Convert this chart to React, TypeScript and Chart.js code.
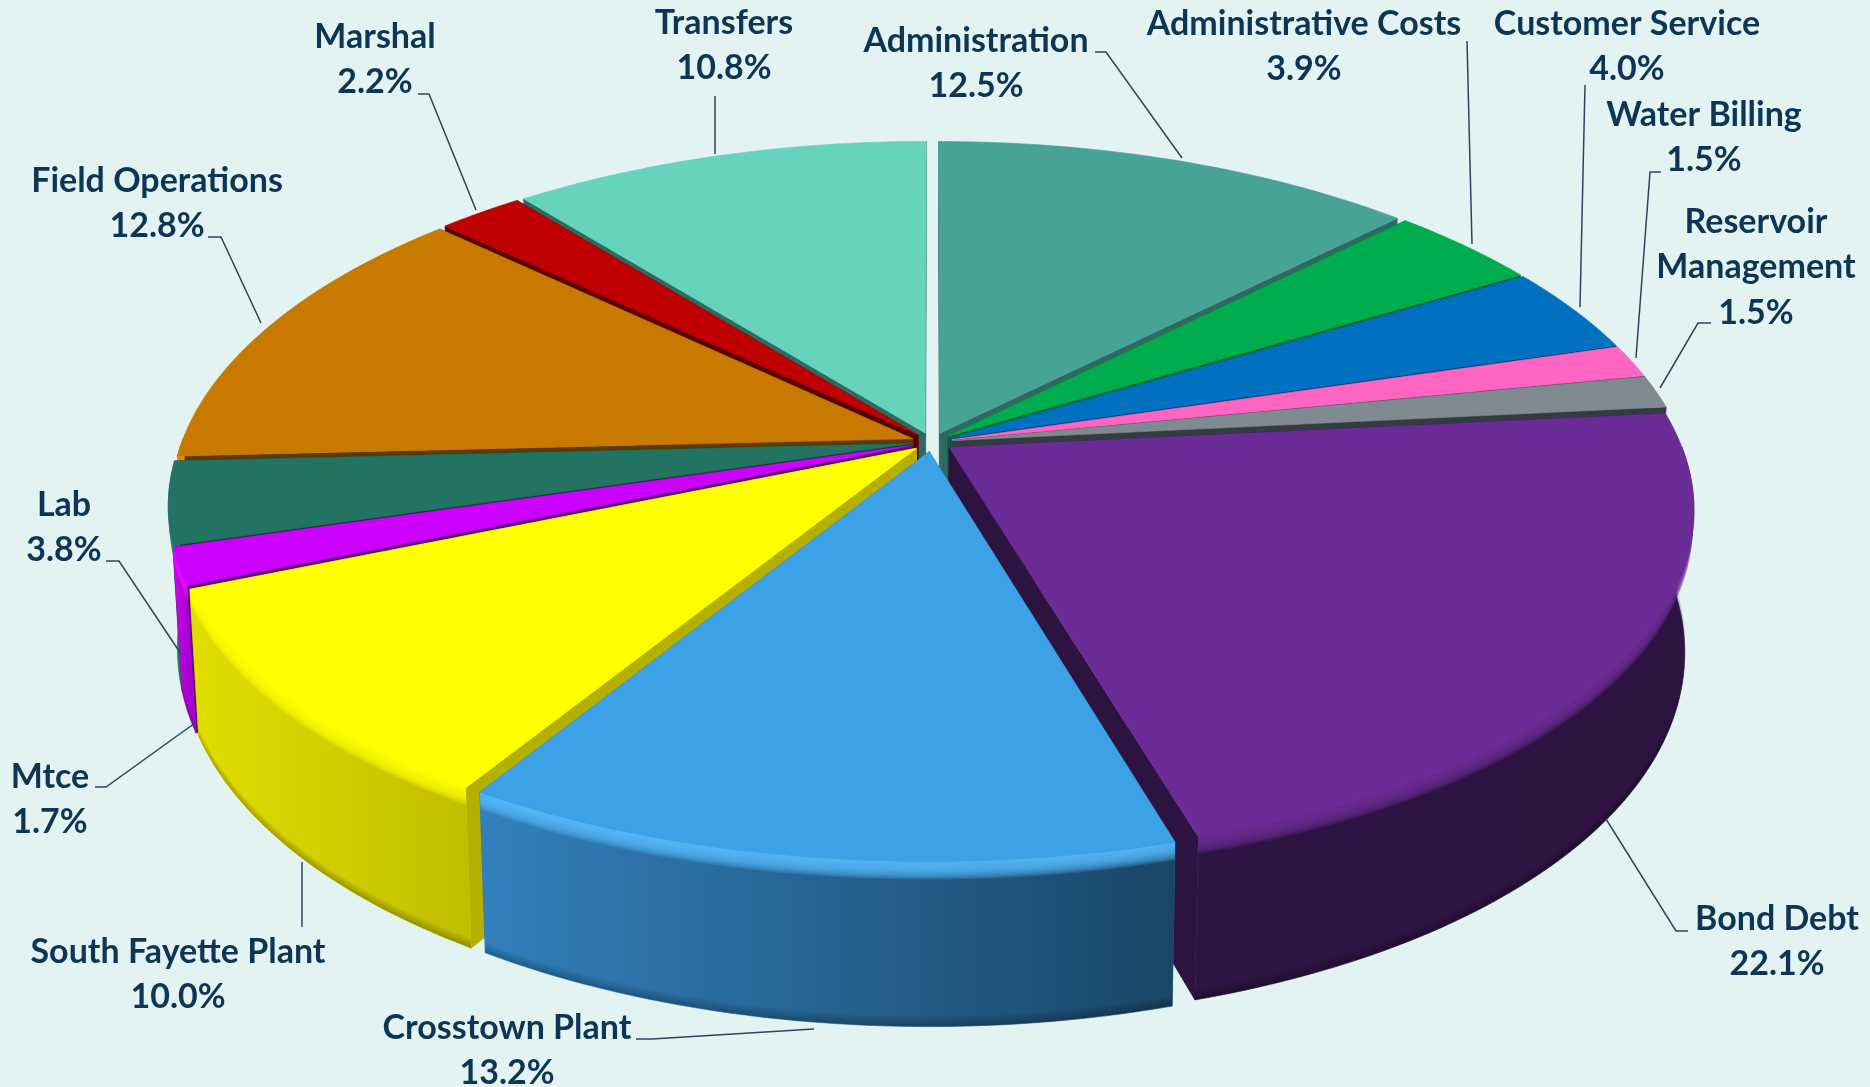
import React, { useEffect, useRef } from "react";
import { Chart, registerables } from "chart.js";

Chart.register(...registerables);

// Budget shares, clockwise from twelve o'clock.
const categories = [
  "Administration",
  "Administrative Costs",
  "Customer Service",
  "Water Billing",
  "Reservoir Management",
  "Bond Debt",
  "Crosstown Plant",
  "South Fayette Plant",
  "Mtce",
  "Lab",
  "Field Operations",
  "Marshal",
  "Transfers",
];
const shares = [12.5, 3.9, 4.0, 1.5, 1.5, 22.1, 13.2, 10.0, 1.7, 3.8, 12.8, 2.2, 10.8];

const topColors = ["#47A396", "#00AD4E", "#0070C0", "#FF66C4", "#7F8B90", "#6C2C98", "#3DA1E8", "#FFFF00", "#CC00FF", "#227361", "#C87A00", "#C00000", "#66D3BC"];
const edgeColors = ["#2F6A62", "#006B30", "#003F70", "#8A3A6C", "#333C40", "#2C1340", "#2A6FA0", "#B5B000", "#5E0078", "#10382F", "#5E3A00", "#560000", "#2F6A62"];
const rimLeft = ["#2F6A62", "#00803A", "#005A9A", "#C04A94", "#555F63", "#2E1442", "#3280BC", "#E2DE00", "#DC00F4", "#1F8068", "#E88C00", "#8A0000", "#4AA090"];
const rimRight = ["#2F6A62", "#00803A", "#005A9A", "#C04A94", "#555F63", "#2C1340", "#1A4666", "#C2BE00", "#A800D0", "#1F8068", "#B06A00", "#8A0000", "#4AA090"];
const bevelColors = ["#47A396", "#00AD4E", "#0070C0", "#FF66C4", "#7F8B90", "#6C2C98", "#55B8FA", "#FFFF00", "#F010FF", "#2A8A74", "#E08A00", "#C00000", "#66D3BC"];

const BACKGROUND = "#E2F3F1";
const INK = "#0C3556";
const LEADER = "#2C4658";
const LABEL_FONT = "bold 34px Lato";
const LINE_HEIGHT = 45.5;

// Camera used to lay the flat pie on its side.
const view = { cx: 932, cy: 442, rx: 731, ry: 341, perspX: 0.174, perspY: 0.16, depth: 138, taper: 0.012 };
const EXPLODE_PX = 15;
const BEVEL_DEPTH = 0.11;

// Centre of each text block and the bent leader line that belongs to it.
const placements = [
  { x: 976, y: 41, leader: [[1095, 52], [1106, 52], [1182, 158]] },
  { x: 1304, y: 24, leader: [[1467, 41], [1472, 244]] },
  { x: 1627, y: 24, leader: [[1585, 85], [1580, 307]] },
  { x: 1704, y: 115, leader: [[1661, 172], [1650, 172], [1636, 358]] },
  { x: 1756, y: 222, lines: ["Reservoir", "Management"], leader: [[1711, 323], [1698, 323], [1660, 388]] },
  { x: 1777, y: 919, leader: [[1688, 931], [1676, 931], [1606, 819]] },
  { x: 507, y: 1028, leader: [[636, 1039], [652, 1039], [814, 1029]] },
  { x: 178, y: 952, leader: [[302, 927], [302, 862]] },
  { x: 50, y: 777, leader: [[95, 787], [106, 787], [195, 723]] },
  { x: 64, y: 505, leader: [[106, 561], [119, 561], [181, 654]] },
  { x: 157, y: 181, leader: [[208, 237], [221, 237], [261, 323]] },
  { x: 375, y: 37, leader: [[418, 94], [429, 94], [476, 210]] },
  { x: 724, y: 23, leader: [[715, 96], [715, 154]] },
];

type Pt = [number, number];

// Maps a point on the unit pie (u to the right, v towards the viewer) at height
// fraction h (0 = top face, 1 = underside) onto the canvas.
function project(u: number, v: number, h: number): Pt {
  const x = view.cx + ((view.rx * u) / (1 - view.perspX * v)) * (1 - view.taper * h);
  const y = view.cy + (view.ry * v + view.depth * h) / (1 - view.perspY * v);
  return [x, y];
}

function tracePath(ctx: CanvasRenderingContext2D, pts: Pt[]) {
  ctx.beginPath();
  pts.forEach(([x, y], i) => (i ? ctx.lineTo(x, y) : ctx.moveTo(x, y)));
  ctx.closePath();
}

function fillPoly(ctx: CanvasRenderingContext2D, pts: Pt[], style: string | CanvasGradient) {
  tracePath(ctx, pts);
  ctx.fillStyle = style;
  ctx.fill();
  ctx.strokeStyle = style;
  ctx.lineWidth = 0.6;
  ctx.stroke();
}

const pie3dPlugin = {
  id: "pie3d",
  beforeDatasetsDraw(chart: Chart) {
    const ctx = chart.ctx;
    const arcs = chart.getDatasetMeta(0).data as any[];
    const slices = arcs.map((arc, index) => {
      const start = arc.startAngle + Math.PI / 2;
      const end = arc.endAngle + Math.PI / 2;
      const mid = (start + end) / 2;
      const off = arc.options.offset / arc.outerRadius;
      return { index, start, end, mid, ou: off * Math.sin(mid), ov: -off * Math.cos(mid) };
    });
    // Far slices first, so nearer ones paint over them.
    const order = [...slices].sort((a, b) => -Math.cos(a.mid) - -Math.cos(b.mid));

    ctx.save();
    order.forEach((s) => {
      const rimBetween = (from: number, to: number, h: number): Pt[] => {
        const steps = Math.max(4, Math.ceil((to - from) / 0.02));
        const pts: Pt[] = [];
        for (let i = 0; i <= steps; i++) {
          const t = from + ((to - from) * i) / steps;
          pts.push(project(s.ou + Math.sin(t), s.ov - Math.cos(t), h));
        }
        return pts;
      };
      const apex = (h: number) => project(s.ou, s.ov, h);
      const edge = (t: number, h: number) => project(s.ou + Math.sin(t), s.ov - Math.cos(t), h);

      // Cut faces along both radial edges.
      fillPoly(ctx, [apex(0), edge(s.start, 0), edge(s.start, 1), apex(1)], edgeColors[s.index]);
      fillPoly(ctx, [apex(0), edge(s.end, 0), edge(s.end, 1), apex(1)], edgeColors[s.index]);

      // Curved outer wall: only the part turned towards the viewer shows.
      const from = Math.max(s.start, Math.PI / 2);
      const to = Math.min(s.end, (3 * Math.PI) / 2);
      if (to > from) {
        const top = rimBetween(from, to, 0);
        const bottom = rimBetween(from, to, 1);
        const fullTop = rimBetween(s.start, s.end, 0).map((p) => p[0]);
        const grad = ctx.createLinearGradient(Math.min(...fullTop), 0, Math.max(...fullTop), 0);
        grad.addColorStop(0, rimLeft[s.index]);
        grad.addColorStop(1, rimRight[s.index]);
        fillPoly(ctx, [...top, ...[...bottom].reverse()], grad);

        // Rounded shoulder between the wall and the top face.
        const bands = 14;
        ctx.fillStyle = bevelColors[s.index];
        ctx.globalAlpha = 0.2;
        for (let b = bands; b >= 1; b--) {
          tracePath(ctx, [...top, ...rimBetween(from, to, (BEVEL_DEPTH * b) / bands).reverse()]);
          ctx.fill();
        }

        // Darker roll-off along the foot of the wall.
        ctx.fillStyle = "#000000";
        ctx.globalAlpha = 0.05;
        for (let b = 1; b <= 5; b++) {
          tracePath(ctx, [...rimBetween(from, to, 1 - 0.012 * b), ...[...bottom].reverse()]);
          ctx.fill();
        }
        ctx.globalAlpha = 1;
      }

      fillPoly(ctx, [apex(0), ...rimBetween(s.start, s.end, 0)], topColors[s.index]);
    });
    ctx.restore();
    return false;
  },
  afterDraw(chart: Chart) {
    const ctx = chart.ctx;
    ctx.save();
    ctx.font = LABEL_FONT;
    ctx.fillStyle = INK;
    ctx.textAlign = "center";
    ctx.textBaseline = "middle";
    ctx.strokeStyle = LEADER;
    ctx.lineWidth = 1.5;
    const values = chart.data.datasets[0].data as number[];
    placements.forEach((place, i) => {
      const rows = [...(place.lines ?? [categories[i]]), `${values[i].toFixed(1)}%`];
      rows.forEach((row, r) => ctx.fillText(row, place.x, place.y + r * LINE_HEIGHT));
      ctx.beginPath();
      place.leader.forEach(([x, y], k) => (k ? ctx.lineTo(x, y) : ctx.moveTo(x, y)));
      ctx.stroke();
    });
    ctx.restore();
  },
};

export default function App() {
  const canvasRef = useRef<HTMLCanvasElement>(null);

  useEffect(() => {
    const chart = new Chart(canvasRef.current!, {
      type: "pie",
      data: {
        labels: categories,
        datasets: [{ data: shares, backgroundColor: topColors, borderWidth: 0, offset: EXPLODE_PX }],
      },
      options: {
        responsive: false,
        animation: false,
        events: [],
        rotation: 0,
        plugins: { legend: { display: false }, tooltip: { enabled: false } },
      },
      plugins: [pie3dPlugin as any],
    });
    return () => chart.destroy();
  }, []);

  return (
    <div style={{ position: "fixed", left: 0, top: 0, width: 1870, height: 1087, background: BACKGROUND }}>
      <canvas ref={canvasRef} width={1870} height={1087} style={{ display: "block" }} />
    </div>
  );
}
